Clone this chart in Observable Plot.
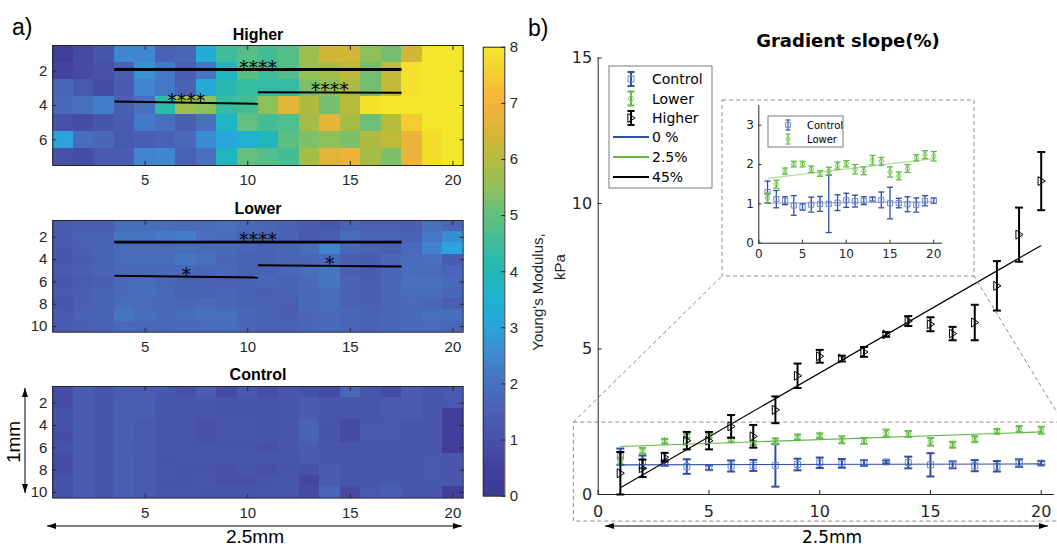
<!DOCTYPE html>
<html><head><meta charset="utf-8">
<script src="https://cdn.jsdelivr.net/npm/d3@7"></script>
<script src="https://cdn.jsdelivr.net/npm/@observablehq/plot@0.6"></script>
<style>
body{margin:0;background:#fff;}
#wrap{position:relative;width:1057px;height:546px;overflow:hidden;background:#fff;}
#wrap svg{position:absolute;}
</style></head><body><div id="wrap"></div>
<script>
// ---------------- DATA ----------------
const positions = [1,2,3,4,5,6,7,8,9,10,11,12,13,14,15,16,17,18,19,20];

const higherRows = [
 [0.3,0.8,1.1,2.5,2.5,1.6,1.7,3.3,4.5,4.8,4.6,4.8,5.7,6.4,6.4,5.5,5.2,6.4,8.0,8.0],
 [0.6,0.8,1.0,1.5,2.7,2.2,1.5,2.1,3.8,4.9,4.5,4.8,5.6,5.8,6.1,5.2,6.2,7.9,8.0,8.0],
 [1.7,1.3,0.9,1.4,2.4,2.2,1.6,3.2,4.1,4.4,4.3,4.3,5.3,5.5,5.9,5.2,6.2,7.9,8.0,8.0],
 [1.8,2.0,2.3,1.5,2.0,4.2,5.7,5.5,4.4,4.6,5.5,6.6,5.9,5.2,6.0,7.9,8.0,8.0,8.0,8.0],
 [1.0,0.9,1.1,1.4,2.2,2.0,1.5,2.0,3.7,5.0,4.6,4.7,5.8,6.7,5.8,5.1,6.0,7.5,8.0,8.0],
 [3.0,1.9,1.7,1.3,1.5,1.6,1.8,2.6,3.1,3.4,3.9,4.9,5.3,5.5,5.3,5.9,6.1,6.8,7.8,8.0],
 [1.0,0.9,1.3,1.4,2.4,2.5,1.6,2.0,3.8,5.0,4.8,4.6,5.8,6.6,6.8,5.8,5.3,6.8,7.8,8.0]
];
const lowerRows = [
 [1.3,1.5,1.5,1.9,1.9,1.9,1.8,1.8,2.0,1.8,1.7,1.6,1.4,1.2,1.6,1.5,1.5,1.5,2.0,1.7],
 [1.4,1.6,1.6,2.1,2.1,2.2,2.3,2.0,1.9,1.7,1.7,1.6,1.3,1.5,1.9,1.7,1.7,1.6,2.2,2.6],
 [1.3,1.5,1.6,1.8,1.8,1.8,1.9,1.8,1.8,1.7,1.6,1.7,1.9,2.4,1.7,1.6,1.5,1.8,2.4,3.0],
 [1.2,1.4,1.6,1.9,1.9,1.9,2.1,2.0,1.7,1.6,1.6,1.7,1.7,1.8,1.5,1.4,1.7,1.9,2.0,1.4],
 [1.3,1.5,1.6,1.8,1.8,1.8,1.8,1.7,1.8,1.6,1.6,1.7,1.9,2.1,1.5,1.4,1.7,1.9,1.8,1.7],
 [1.2,1.4,1.5,1.8,1.9,1.7,1.6,1.6,1.5,1.6,1.7,1.6,1.8,2.1,1.6,1.4,1.7,2.0,2.0,1.8],
 [1.3,1.5,1.6,1.8,1.9,1.8,1.6,1.6,1.7,1.6,1.5,1.6,1.8,1.9,1.6,1.5,1.7,1.9,1.9,1.7],
 [1.2,1.5,1.6,1.9,1.8,1.8,1.7,1.8,1.7,1.6,1.6,1.5,1.8,1.9,1.6,1.5,1.7,1.8,1.7,1.5],
 [1.3,1.6,1.6,2.1,1.9,1.8,1.9,2.0,2.0,1.7,1.6,1.5,1.7,1.8,1.7,1.6,1.7,1.8,2.0,1.9],
 [1.3,1.5,1.6,1.8,1.7,1.7,1.8,1.8,1.9,1.7,1.6,1.6,1.7,1.8,1.7,1.6,1.7,1.8,1.8,1.7]
];
const controlRows = [
 [0.9,1.4,1.1,1.4,1.4,1.3,1.0,1.5,0.8,1.3,0.9,1.2,1.0,0.8,1.7,1.1,0.8,1.4,1.1,1.3],
 [0.9,1.4,1.1,1.5,1.5,1.2,1.2,1.2,1.1,1.1,1.1,1.2,1.4,1.2,1.2,1.2,1.3,1.4,1.2,1.3],
 [1.0,1.4,1.1,1.5,1.5,1.2,1.2,1.2,1.1,1.1,1.1,1.2,1.4,1.2,1.2,1.2,1.3,1.4,1.2,0.3],
 [1.0,1.4,1.1,1.5,1.3,1.2,1.2,1.0,1.2,1.2,1.1,1.2,1.6,1.1,0.8,1.3,1.3,1.2,1.2,0.3],
 [0.9,1.4,1.1,1.5,1.3,1.2,1.2,1.0,1.2,1.2,1.1,1.2,1.6,1.1,0.8,1.3,1.3,1.2,1.2,0.3],
 [1.0,1.4,1.1,1.5,1.4,1.2,1.2,1.1,1.1,1.1,1.0,1.2,1.4,1.2,1.1,1.2,1.2,1.2,1.2,0.3],
 [0.9,1.4,1.1,1.5,1.3,1.1,1.2,1.2,1.2,1.2,1.2,1.2,1.3,1.2,1.2,1.2,1.2,1.2,1.3,1.2],
 [0.9,1.4,1.1,1.5,1.3,1.2,1.1,1.1,1.0,1.1,1.0,1.1,1.0,1.4,1.2,1.2,1.2,1.2,1.3,1.2],
 [1.0,1.4,1.1,1.5,1.3,1.1,1.1,1.2,1.0,1.0,1.1,1.2,0.7,1.4,1.1,1.2,1.3,1.2,1.3,1.2],
 [1.0,1.4,1.1,1.5,1.3,1.2,1.2,1.1,1.1,1.1,1.2,1.2,0.8,1.7,0.8,1.3,1.5,1.2,1.2,0.4]
];

const colorStops = [0,0.5,1,1.5,2,2.5,3,3.5,4,4.5,5,5.5,6,6.5,7,7.5,8];
const colorHex = ["#3d3996","#433f9c","#4652a8","#4a5fb3","#4870bf","#3f88cf","#2ba3dc","#1cb3d0",
                  "#22b8b5","#3ebd9a","#63bf7c","#8ec05a","#b5bb3b","#dbb437","#f6b33c","#f5cc30","#f3e62b"];
const colorbarTicks = [0,1,2,3,4,5,6,7,8];
const heatXTicks = [5,10,15,20];
const higherYTicks = [2,4,6];
const tallYTicks = [2,4,6,8,10];

const higherSig = [
 {from:3.5, to:17.5, y1:1.9,  y2:1.9,  label:"****"},
 {from:10.5,to:17.5, y1:3.22, y2:3.25, label:"****"},
 {from:3.5, to:10.5, y1:3.76, y2:3.9,  label:"****"}
];
const lowerSig = [
 {from:3.5, to:17.5, y1:2.44, y2:2.44, label:"****"},
 {from:10.5,to:17.5, y1:4.5,  y2:4.62, label:"*"},
 {from:3.5, to:10.5, y1:5.45, y2:5.6,  label:"*"}
];

const controlMean = [1.3,1.12,1.08,0.96,0.92,0.98,1.0,1.0,1.03,1.09,1.07,1.08,1.12,1.1,1.02,1.02,0.99,0.97,1.08,1.08];
const controlErr  = [0.28,0.22,0.1,0.25,0.08,0.19,0.19,0.73,0.2,0.18,0.15,0.1,0.05,0.2,0.4,0.12,0.19,0.18,0.13,0.07];
const lowerMean   = [1.15,1.5,1.83,2.01,2.01,1.88,1.77,1.83,1.97,2.02,1.88,1.84,2.11,2.08,1.81,1.71,1.9,2.17,2.25,2.21];
const lowerErr    = [0.12,0.1,0.08,0.07,0.07,0.08,0.07,0.1,0.09,0.08,0.12,0.1,0.12,0.1,0.13,0.1,0.1,0.08,0.1,0.12];
const higherMean  = [0.73,0.9,1.28,1.85,1.85,2.34,2.0,2.91,4.08,4.75,4.67,4.9,5.5,5.96,5.85,5.53,5.91,7.17,8.93,10.77];
const higherErr   = [0.73,0.3,0.15,0.3,0.3,0.39,0.39,0.46,0.42,0.22,0.1,0.17,0.08,0.17,0.24,0.23,0.61,0.85,0.93,1.0];

const fitX = [1,20];
const fits = [
 {name:"0 %",  series:"Control", start:1.02, end:1.05},
 {name:"2.5%", series:"Lower",   start:1.65, end:2.15},
 {name:"45%",  series:"Higher",  start:0.23, end:8.56}
];
const mainXTicks = [0,5,10,15,20];
const mainYTicks = [0,5,10,15];
const insetXTicks = [0,5,10,15,20];
const insetYTicks = [0,1,2,3];
const zoomBox = [{x1:-1.1, x2:21, y1:-0.93, y2:2.47}];

// ---------------- STYLE ----------------
const BLUE = "#2e4ea6", BLUE_M = "#6f87c8", BLUE_L = "#a3b4e0";
const GREEN = "#5fb842", GREEN_M = "#7cc95e", GREEN_L = "#b2df9c";
const INK = "#262626";
const colorScale = {type:"linear", domain: colorStops, range: colorHex, clamp:true};

const rOf = s => Math.sqrt(s / Math.PI);
const capSym = {draw(c,s){const r=rOf(s); c.moveTo(-r,0); c.lineTo(r,0);}};
const squareSym = {draw(c,s){const r=rOf(s); c.rect(-r,-r,2*r,2*r);}};
const diamondSym = {draw(c,s){const r=rOf(s); c.moveTo(0,-r*1.25); c.lineTo(r*0.85,0); c.lineTo(0,r*1.25); c.lineTo(-r*0.85,0); c.closePath();}};
const triSym = {draw(c,s){const r=rOf(s); c.moveTo(-r*0.7,-r); c.lineTo(r*0.9,0); c.lineTo(-r*0.7,r); c.closePath();}};

const wrap = document.getElementById("wrap");
function place(el, left, top){ el.style.left = left+"px"; el.style.top = top+"px"; wrap.appendChild(el); return el; }

// ---------------- HEATMAPS ----------------
const HM_LEFT = 52.3, HM_RIGHT = 7.3, HM_W = 470;
function heatmap(rows, title, yTicks, sig, top, frameH){
  const n = rows.length;
  const cells = rows.flatMap((row, r) => row.map((v, c) => ({r: r+1, c: positions[c], v})));
  const plot = Plot.plot({
    width: HM_W, height: 25 + frameH + 30,
    marginLeft: HM_LEFT, marginRight: HM_RIGHT, marginTop: 25, marginBottom: 30,
    x: {domain:[0.5,20.5], label:null},
    y: {domain:[0.5,n+0.5], reverse:true, label:null},
    color: colorScale,
    style: {fontFamily:"'Liberation Sans', Arial, sans-serif", fontSize:"15px", color:INK, background:"transparent", overflow:"visible"},
    marks: [
      Plot.rect(cells, {x1: d=>d.c-0.5, x2: d=>d.c+0.5, y1: d=>d.r-0.5, y2: d=>d.r+0.5, fill:"v", shapeRendering:"crispEdges"}),
      sig ? Plot.link(sig, {x1:"from", x2:"to", y1:"y1", y2:"y2", stroke:"#000", strokeWidth: d => (d.to-d.from) > 10 ? 2.8 : 2}) : null,
      sig ? Plot.text(sig, {x: d=>(d.from+d.to)/2, y: d=>(d.y1+d.y2)/2, text:"label", lineAnchor:"bottom", dy:4, fontSize:19, fontFamily:"'DejaVu Sans', sans-serif", fill:"#000"}) : null,
      Plot.frame({stroke:INK, strokeWidth:1}),
      Plot.axisY(yTicks, {anchor:"left", tickSize:-4, tickFormat:()=>"", label:null}),
      Plot.axisY(yTicks, {anchor:"right", tickSize:-4, tickFormat:()=>"", label:null}),
      Plot.axisY(yTicks, {anchor:"left", tickSize:0, tickPadding:5.5, fontSize:15, label:null}),
      Plot.axisX(heatXTicks, {anchor:"top", tickSize:-4, tickFormat:()=>"", label:null}),
      Plot.axisX(heatXTicks, {anchor:"bottom", tickSize:-4, tickFormat:()=>"", label:null}),
      Plot.axisX(heatXTicks, {anchor:"bottom", tickSize:0, tickPadding:9, fontSize:15, label:null}),
      Plot.text([title], {text:d=>d, frameAnchor:"top", lineAnchor:"bottom", dy:-6, fontWeight:"bold", fontSize:16, fill:"#000"})
    ]
  });
  return place(plot, 0, top);
}
heatmap(higherRows, "Higher", higherYTicks, higherSig, 20, 120);
heatmap(lowerRows, "Lower", tallYTicks, lowerSig, 195, 111.7);
heatmap(controlRows, "Control", tallYTicks, null, 360.7, 111.6);

// ---------------- COLORBAR ----------------
const cbLevels = d3.range(64);
const cb = Plot.plot({
  width: 60, height: 480, marginLeft: 12.7, marginRight: 25.7, marginTop: 16.7, marginBottom: 14.3,
  y: {domain:[0,8], label:null},
  color: colorScale,
  style: {fontFamily:"'Liberation Sans', Arial, sans-serif", fontSize:"15px", color:INK, background:"transparent", overflow:"visible"},
  marks: [
    Plot.rect(cbLevels, {y1: i=>i*8/64, y2: i=>(i+1)*8/64, fill: i=>(i+0.5)*8/64, shapeRendering:"crispEdges"}),
    Plot.frame({stroke:INK}),
    Plot.axisY(colorbarTicks, {anchor:"right", tickSize:-4, tickFormat:()=>"", label:null}),
    Plot.axisY(colorbarTicks, {anchor:"right", tickSize:0, tickPadding:5, fontSize:15, tickFormat:d=>String(d), label:null})
  ]
});
place(cb, 470, 30);

// ---------------- MAIN SCATTER ----------------
const ctrlData = positions.map((x,i)=>({x, m:controlMean[i], e:controlErr[i]}));
const lowData  = positions.map((x,i)=>({x, m:lowerMean[i],   e:lowerErr[i]}));
const highData = positions.map((x,i)=>({x, m:higherMean[i],  e:higherErr[i]}));

function series(data, bar, mark, sym, o){
  return [
    Plot.ruleX(data, {x:"x", y1:d=>d.m-d.e, y2:d=>d.m+d.e, stroke:bar, strokeWidth:o.bw}),
    Plot.dot(data, {x:"x", y:d=>d.m-d.e, symbol:capSym, r:o.cap, stroke:bar, fill:"none", strokeWidth:o.bw}),
    Plot.dot(data, {x:"x", y:d=>d.m+d.e, symbol:capSym, r:o.cap, stroke:bar, fill:"none", strokeWidth:o.bw}),
    Plot.dot(data, {x:"x", y:"m", symbol:sym, r:o.r, stroke:mark, fill:"none", strokeWidth:1})
  ];
}
const fitColor = {"Control":BLUE, "Lower":GREEN, "Higher":"#000"};
const MAIN = {left:560, top:40, width:497, height:506, ml:37.7, mr:3, mt:17.5, mb:52};
const main = Plot.plot({
  width: MAIN.width, height: MAIN.height, marginLeft: MAIN.ml, marginRight: MAIN.mr, marginTop: MAIN.mt, marginBottom: MAIN.mb,
  x: {domain:[0,20.6], label:null}, y: {domain:[0,15], label:null},
  style: {fontFamily:"'DejaVu Sans', sans-serif", fontSize:"16px", color:INK, background:"transparent", overflow:"visible"},
  marks: [
    Plot.rect(zoomBox, {x1:"x1", x2:"x2", y1:"y1", y2:"y2", fill:"none", stroke:"#8c8c8c", strokeDasharray:"4,3"}),
    Plot.ruleX([0], {stroke:INK}),
    Plot.ruleY([0], {stroke:INK}),
    Plot.axisY(mainYTicks, {anchor:"left", tickSize:-4, tickFormat:()=>"", label:null}),
    Plot.axisY(mainYTicks, {anchor:"left", tickSize:0, tickPadding:6, fontSize:16, label:null}),
    Plot.axisX(mainXTicks, {anchor:"bottom", tickSize:-4, tickFormat:()=>"", label:null}),
    Plot.axisX(mainXTicks, {anchor:"bottom", tickSize:0, tickPadding:11, fontSize:16, label:null}),
    ...series(ctrlData, BLUE, BLUE_M, squareSym, {bw:2, cap:4, r:3}),
    ...series(lowData, GREEN, GREEN_M, diamondSym, {bw:2, cap:3.5, r:3.2}),
    ...series(highData, "#000", "#000", triSym, {bw:2, cap:4, r:4.5}),
    Plot.link(fits, {x1:()=>fitX[0], x2:()=>fitX[1], y1:"start", y2:"end", stroke:d=>fitColor[d.series], strokeWidth:1.2})
  ]
});
place(main, MAIN.left, MAIN.top);

// ---------------- INSET ----------------
const INS = {left:722, top:100, width:252, height:176};
const inset = Plot.plot({
  width: INS.width, height: INS.height, marginLeft: 36.3, marginRight: 32, marginTop: 5, marginBottom: 33.3,
  x: {domain:[0,21], label:null}, y: {domain:[0,3.5], label:null},
  style: {fontFamily:"'DejaVu Sans', sans-serif", fontSize:"12px", color:INK, background:"#fff", overflow:"visible"},
  marks: [
    Plot.ruleX([0], {stroke:INK}),
    Plot.ruleY([0], {stroke:INK}),
    Plot.axisY(insetYTicks, {anchor:"left", tickSize:-3, tickFormat:()=>"", label:null}),
    Plot.axisY(insetYTicks, {anchor:"left", tickSize:0, tickPadding:5, fontSize:12, label:null}),
    Plot.axisX(insetXTicks, {anchor:"bottom", tickSize:-3, tickFormat:()=>"", label:null}),
    Plot.axisX(insetXTicks, {anchor:"bottom", tickSize:0, tickPadding:6, fontSize:12, label:null}),
    Plot.link(fits.filter(f=>f.series!=="Higher"), {x1:()=>fitX[0], x2:()=>fitX[1], y1:"start", y2:"end", stroke:d=>d.series==="Control"?BLUE_L:GREEN_L, strokeWidth:1.2}),
    ...series(ctrlData, BLUE, BLUE_M, squareSym, {bw:1.3, cap:3, r:2.6}),
    ...series(lowData, GREEN, GREEN_M, diamondSym, {bw:1.3, cap:3, r:2.8})
  ]
});
place(inset, INS.left, INS.top);

// ---------------- OVERLAY (labels, arrows, legends) ----------------
const ov = d3.create("svg").attr("width",1057).attr("height",546).style("left","0px").style("top","0px");
const LS = "'Liberation Sans', Arial, sans-serif", DJ = "'DejaVu Sans', sans-serif";
function txt(t, x, y, o={}){
  const e = ov.append("text").attr("x",x).attr("y",y).text(t)
    .attr("font-family",o.ff||LS).attr("font-size",o.fs||15).attr("fill",o.fill||INK)
    .attr("text-anchor",o.anchor||"start");
  if (o.fw) e.attr("font-weight",o.fw);
  if (o.rot) e.attr("transform",`rotate(${o.rot},${x},${y})`);
  return e;
}
function arrow(x1,y1,x2,y2){
  ov.append("line").attr("x1",x1).attr("y1",y1).attr("x2",x2).attr("y2",y2).attr("stroke","#000").attr("stroke-width",1);
  const head = (px,py,a)=>{
    const L=9, Wd=3, c=Math.cos(a), s=Math.sin(a);
    const bx = px - L*c, by = py - L*s;
    ov.append("path").attr("d",`M${px},${py}L${bx - Wd*s},${by + Wd*c}L${bx + Wd*s},${by - Wd*c}Z`).attr("fill","#000");
  };
  const ang = Math.atan2(y2-y1, x2-x1);
  head(x2,y2,ang); head(x1,y1,ang+Math.PI);
}
txt("a)", 12, 35, {fs:23, fill:"#000"});
txt("b)", 528, 36, {fs:23, fill:"#000"});
txt("Gradient slope(%)", 848, 47, {ff:DJ, fs:18, fw:"bold", anchor:"middle", fill:"#000"});
txt("Young's Modulus,", 543, 292, {fs:15, anchor:"middle", rot:-90});
txt("kPa", 565, 267, {fs:15, anchor:"middle", rot:-90});
arrow(47,526,462,526);
txt("2.5mm", 255, 543, {fs:19, anchor:"middle", fill:"#000"});
arrow(25,388,25,493);
txt("1mm", 20, 442, {fs:19, anchor:"middle", rot:-90, fill:"#000"});
arrow(605,526,1048,526);
txt("2.5mm", 832, 543, {ff:DJ, fs:17, anchor:"middle", fill:"#000"});

// zoom connectors from the main scales to the inset box
const sx = main.scale("x"), sy = main.scale("y");
const zb = zoomBox[0];
const zx1 = MAIN.left + sx.apply(zb.x1), zx2 = MAIN.left + sx.apply(zb.x2), zyTop = MAIN.top + sy.apply(zb.y2);
ov.append("rect").attr("x",INS.left).attr("y",INS.top).attr("width",INS.width).attr("height",INS.height)
  .attr("fill","none").attr("stroke","#8c8c8c").attr("stroke-dasharray","4,3");
ov.append("line").attr("x1",zx1).attr("y1",zyTop).attr("x2",INS.left).attr("y2",INS.top+INS.height)
  .attr("stroke","#8c8c8c").attr("stroke-dasharray","4,3");
ov.append("line").attr("x1",zx2).attr("y1",zyTop).attr("x2",INS.left+INS.width).attr("y2",INS.top+INS.height)
  .attr("stroke","#8c8c8c").attr("stroke-dasharray","4,3");

// legends
function legendErr(g, cx, cy, bar, mark, sym, r, half, cap, bw){
  g.append("line").attr("x1",cx).attr("x2",cx).attr("y1",cy-half).attr("y2",cy+half).attr("stroke",bar).attr("stroke-width",bw);
  [cy-half, cy+half].forEach(y=>g.append("line").attr("x1",cx-cap).attr("x2",cx+cap).attr("y1",y).attr("y2",y).attr("stroke",bar).attr("stroke-width",bw));
  g.append("path").attr("transform",`translate(${cx},${cy})`).attr("d",d3.symbol(sym, r*r*Math.PI)()).attr("fill","none").attr("stroke",mark);
}
const legendSeries = [
  {name:"Control", bar:BLUE, mark:BLUE_M, sym:squareSym, r:3},
  {name:"Lower", bar:GREEN, mark:GREEN_M, sym:diamondSym, r:3.2},
  {name:"Higher", bar:"#000", mark:"#000", sym:triSym, r:4.5}
];
const lg = ov.append("g");
lg.append("rect").attr("x",609).attr("y",66).attr("width",103).attr("height",122).attr("fill","#fff").attr("stroke","#7a7a7a");
legendSeries.forEach((s,i)=>{
  const cy = 79 + i*19.5;
  legendErr(lg, 631, cy, s.bar, s.mark, s.sym, s.r, 7, 3.5, 2);
  txt(s.name, 652, cy+5, {ff:DJ, fs:14, fill:"#000"});
});
fits.forEach((f,i)=>{
  const cy = 137 + i*20;
  lg.append("line").attr("x1",613).attr("x2",649).attr("y1",cy).attr("y2",cy).attr("stroke",fitColor[f.series]).attr("stroke-width",2);
  txt(f.name, 652, cy+5, {ff:DJ, fs:14, fill:"#000"});
});
const lg2 = ov.append("g");
lg2.append("rect").attr("x",768).attr("y",116).attr("width",75).attr("height",31).attr("fill","#fff").attr("stroke","#7a7a7a");
legendSeries.slice(0,2).forEach((s,i)=>{
  const cy = 125 + i*14;
  legendErr(lg2, 788, cy, s.bar, s.mark, s.sym, s.r*0.8, 5, 2.5, 1.2);
  txt(s.name, 807, cy+3.5, {ff:DJ, fs:10, fill:"#000"});
});
wrap.appendChild(ov.node());
</script></body></html>
